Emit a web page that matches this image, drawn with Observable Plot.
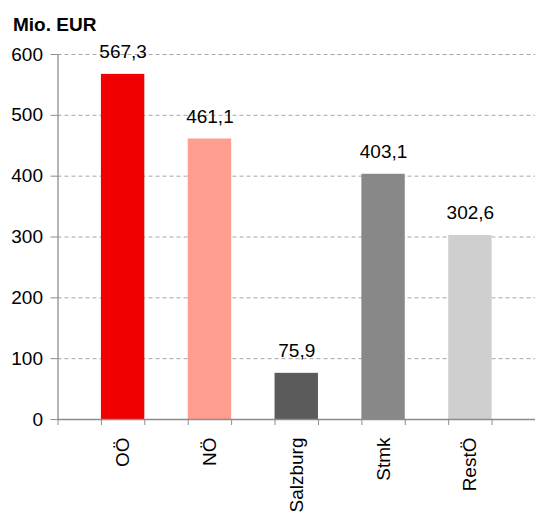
<!DOCTYPE html>
<html>
<head>
<meta charset="utf-8">
<script src="https://cdn.jsdelivr.net/npm/d3@7"></script>
<script src="https://cdn.jsdelivr.net/npm/@observablehq/plot@0.6"></script>
<style>
  html, body { margin: 0; padding: 0; background: #fff; }
  body { font-family: "Liberation Sans", Arial, sans-serif; }
  #wrap { position: relative; width: 535px; height: 513px; }
  #title { position: absolute; left: 13px; top: 15px; font-size: 19px; line-height: 19px; font-weight: bold; color: #000; z-index: 2; }
</style>
</head>
<body>
<div id="wrap">
  <div id="title">Mio. EUR</div>
  <div id="chart"></div>
</div>
<script>
const categories = ["OÖ", "NÖ", "Salzburg", "Stmk", "RestÖ"];
const values = [567.3, 461.1, 75.9, 403.1, 302.6];
const labels = ["567,3", "461,1", "75,9", "403,1", "302,6"];
const colors = ["#f00000", "#ff9d8f", "#5b5b5b", "#888888", "#cfcfcf"];
const yTicks = [0, 100, 200, 300, 400, 500, 600];

const data = categories.map((c, i) => ({
  cat: c, i, value: values[i], label: labels[i], color: colors[i],
  x1: i + 0.5, x2: i + 1, xc: i + 0.75
}));
// tick marks at every half-slot along the category axis
const xTickPos = [0].concat(...data.map(d => [d.x1, d.x2]));

const axisColor = "#8c8c8c";
const fontSize = 19;

const chart = Plot.plot({
  width: 535,
  height: 513,
  marginTop: 54,
  marginBottom: 94,
  marginLeft: 57.5,
  marginRight: 0,
  style: { fontFamily: "'Liberation Sans', Arial, sans-serif", fontSize: fontSize + "px", color: "#000", background: "#fff" },
  x: { domain: [0, 5.5], axis: null },
  y: { domain: [0, 600], axis: null },
  marks: [
    Plot.ruleY(yTicks.filter(t => t > 0), { stroke: "#a6a6a6", strokeWidth: 1, strokeDasharray: "4,3" }),
    Plot.rectY(data, { x1: "x1", x2: "x2", y: "value", fill: "color" }),
    Plot.ruleY([0], { stroke: axisColor, strokeWidth: 1.3 }),
    Plot.ruleX([0], { stroke: axisColor, strokeWidth: 1.3 }),
    Plot.axisY({ ticks: yTicks, tickSize: 7, tickPadding: 8, stroke: axisColor, tickFormat: d => String(d), fontSize: fontSize, color: "#000", label: null }),
    Plot.axisX({ ticks: xTickPos, tickSize: 6, tickFormat: () => "", stroke: axisColor, label: null }),
    Plot.text(data, { x: "xc", y: "value", text: "label", lineAnchor: "bottom", dy: -16, fill: "#000", fontSize: fontSize }),
    Plot.text(data, { x: "xc", y: () => 0, text: "cat", rotate: -90, textAnchor: "end", lineAnchor: "middle", dy: 18, fill: "#000", fontSize: fontSize })
  ]
});
document.getElementById("chart").appendChild(chart);
</script>
</body>
</html>
